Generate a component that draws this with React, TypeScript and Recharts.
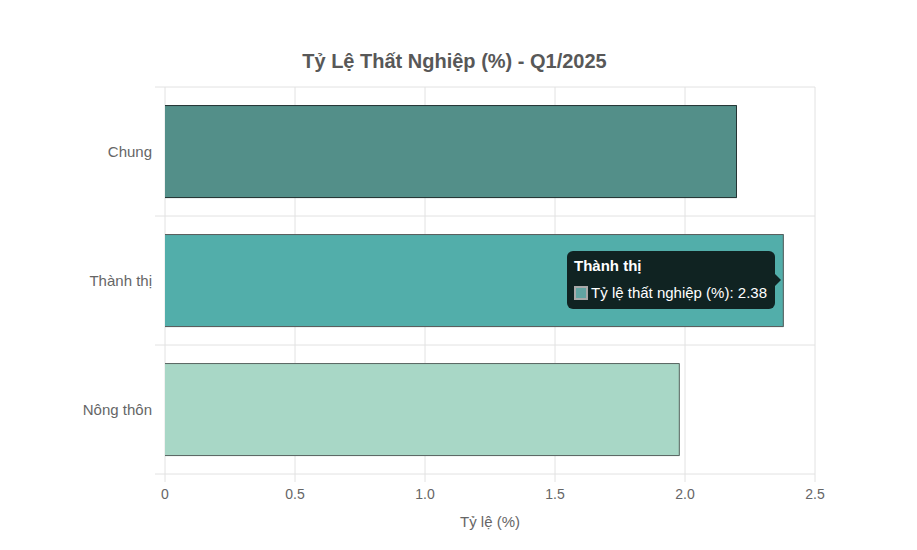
import React from "react";
import { BarChart, Bar, XAxis, YAxis, CartesianGrid, Tooltip, Cell, Label } from "recharts";

const categories = ["Chung", "Thành thị", "Nông thôn"];
const rates = [2.2, 2.38, 1.98];
const xTicks = [0, 0.5, 1, 1.5, 2, 2.5];
const seriesName = "Tỷ lệ thất nghiệp (%)";
const fills = ["#538f89", "#52aeaa", "#a8d7c6"];
const strokes = ["#253434", "#5c5c5c", "#5a6461"];

const data = categories.map((name, i) => ({ name, value: rates[i] }));

const FONT = '"Liberation Sans", Arial, Helvetica, sans-serif';
const GRID = "#e2e2e2";

const BarShape = (props: any) => {
  const { x, y, width, height, index } = props;
  const f = fills[index];
  const s = strokes[index];
  return (
    <g>
      <rect x={x} y={y} width={width} height={height} fill={f} />
      <path
        d={`M${x},${y + 0.5} H${x + width - 0.5} V${y + height - 0.5} H${x}`}
        fill="none"
        stroke={s}
        strokeWidth={1}
      />
    </g>
  );
};

const TipContent = (props: any) => {
  const { active, payload, label } = props;
  if (!active || !payload || !payload.length) return null;
  const p = payload[0];
  return (
    <div
      style={{
        position: "relative",
        boxSizing: "border-box",
        width: 208,
        background: "rgba(0,0,0,0.8)",
        borderRadius: 6,
        padding: "6px 8px 7px 7px",
        color: "#fff",
        fontFamily: FONT,
        fontSize: 15,
        whiteSpace: "nowrap",
      }}
    >
      <div style={{ fontWeight: "bold", marginBottom: 9, lineHeight: "18px" }}>{label}</div>
      <div style={{ display: "flex", alignItems: "center", lineHeight: "18px" }}>
        <span
          style={{
            display: "inline-block",
            boxSizing: "border-box",
            width: 15,
            height: 14,
            background: "#62a4a2",
            border: "2px solid #a9a9a9",
            marginRight: 3,
          }}
        />
        <span>
          {p.name}: {p.value}
        </span>
      </div>
      <div
        style={{
          position: "absolute",
          right: -6,
          top: "50%",
          marginTop: -6,
          width: 0,
          height: 0,
          borderTop: "6px solid transparent",
          borderBottom: "6px solid transparent",
          borderLeft: "6px solid rgba(0,0,0,0.8)",
        }}
      />
    </div>
  );
};

const HLine = (props: any) => {
  const { x1, x2, y1, y2 } = props;
  return <line x1={x1 - 10} x2={x2} y1={y1} y2={y2} stroke={GRID} strokeWidth={1} />;
};

export default function App() {
  return (
    <div style={{ position: "absolute", left: 0, top: 0, width: 917, height: 550, background: "#fff" }}>
      <div
        style={{
          position: "absolute",
          left: 0,
          top: 49,
          width: 909,
          textAlign: "center",
          fontFamily: FONT,
          fontWeight: "bold",
          fontSize: 20,
          lineHeight: "24px",
          color: "#585858",
        }}
      >
        Tỷ Lệ Thất Nghiệp (%) - Q1/2025
      </div>
      <BarChart
        width={917}
        height={550}
        data={data}
        layout="vertical"
        margin={{ top: 87, right: 102, left: 0, bottom: 0 }}
        barCategoryGap="14%"
      >
        <CartesianGrid
          stroke={GRID}
          horizontal={HLine}
          horizontalCoordinatesGenerator={({ offset }: any) =>
            categories.map((_, i) => offset.top + (offset.height * i) / categories.length).concat(offset.top + offset.height)
          }
        />
        <XAxis
          type="number"
          domain={[0, 2.5]}
          ticks={xTicks}
          interval={0}
          tickFormatter={(v: number) => (v === 0 ? "0" : v.toFixed(1))}
          height={76}
          axisLine={false}
          tickLine={{ stroke: GRID }}
          tickSize={8}
          tickMargin={7}
          tick={{ fill: "#666", fontSize: 14, fontFamily: FONT }}
        >
          <Label
            value="Tỷ lệ (%)"
            position="insideBottom"
            offset={23}
            style={{ fill: "#666", fontSize: 15, fontFamily: FONT }}
          />
        </XAxis>
        <YAxis
          type="category"
          dataKey="name"
          width={165}
          axisLine={false}
          tickLine={false}
          tickSize={10}
          tickMargin={3}
          tick={{ fill: "#666", fontSize: 15, fontFamily: FONT }}
        />
        <Tooltip
          content={<TipContent />}
          defaultIndex={1}
          active={true}
          cursor={false}
          isAnimationActive={false}
          position={{ x: 567, y: 251 }}
        />
        <Bar dataKey="value" name={seriesName} shape={BarShape} isAnimationActive={false}>
          {data.map((d, i) => (
            <Cell key={d.name} fill={fills[i]} />
          ))}
        </Bar>
      </BarChart>
    </div>
  );
}
